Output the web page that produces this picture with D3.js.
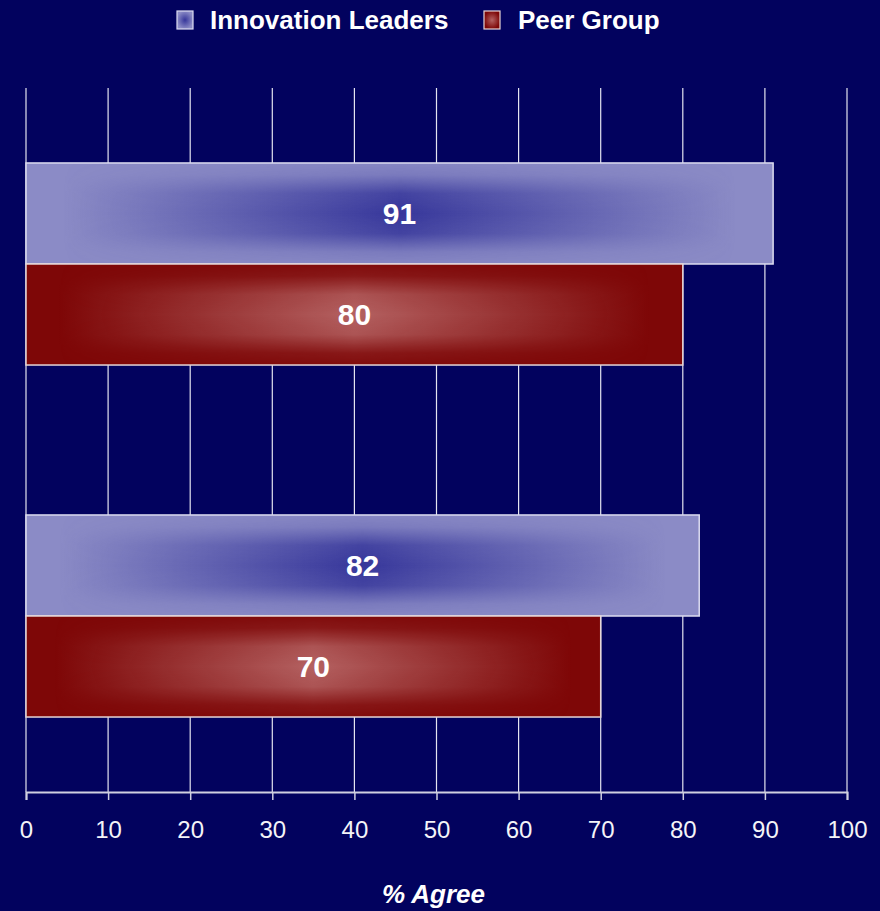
<!DOCTYPE html>
<html>
<head>
<meta charset="utf-8">
<script src="https://cdn.jsdelivr.net/npm/d3@7"></script>
<style>
  html, body { margin: 0; padding: 0; background: #02025e; }
  svg { display: block; }
</style>
</head>
<body>
<svg id="chart" width="880" height="911"></svg>
<script>
// Survey results, % agreeing with each statement
const categories = ["Statement 1", "Statement 2"];
const seriesNames = ["Innovation Leaders", "Peer Group"];
const innovationLeaders = [91, 82];
const peerGroup = [80, 70];
const tickValues = [0, 10, 20, 30, 40, 50, 60, 70, 80, 90, 100];
const axisTitle = "% Agree";

const W = 880, H = 911;
const margin = { left: 26, right: 33, top: 88, bottom: 119 };
const svg = d3.select("#chart");
const font = "'Liberation Sans', Arial, Helvetica, sans-serif";

svg.append("rect").attr("width", W).attr("height", H).attr("fill", "#02025e");

const x = d3.scaleLinear().domain([0, 100]).range([margin.left, W - margin.right]);
const y0 = d3.scaleBand().domain(categories).range([margin.top, H - margin.bottom])
  .paddingInner(0.426).paddingOuter(0.213);
const y1 = d3.scaleBand().domain(seriesNames).range([0, y0.bandwidth()]).padding(0);

// Gradients: a base colour with a second colour overlaid whose opacity peaks in the middle
// both horizontally (gradient) and vertically (mask), giving a bow-tie sheen.
const defs = svg.append("defs");
const styles = {
  "Innovation Leaders": { base: "#8b8bc6", core: "#36369a", key: "lead", stroke: "#dcdcf0" },
  "Peer Group": { base: "#7e0707", core: "#b46262", key: "peer", stroke: "#e6d6d6" }
};

const vMask = defs.append("linearGradient").attr("id", "vfade")
  .attr("x1", 0).attr("y1", 0).attr("x2", 0).attr("y2", 1);
[[0, 0.05], [0.12, 0.2], [0.3, 0.85], [0.5, 1], [0.7, 0.85], [0.88, 0.2], [1, 0.05]].forEach(([o, a]) =>
  vMask.append("stop").attr("offset", o).attr("stop-color", "#fff").attr("stop-opacity", a));
defs.append("mask").attr("id", "barmask").attr("maskContentUnits", "objectBoundingBox")
  .append("rect").attr("width", 1).attr("height", 1).attr("fill", "url(#vfade)");

Object.values(styles).forEach(s => {
  const g = defs.append("linearGradient").attr("id", "h-" + s.key)
    .attr("x1", 0).attr("y1", 0).attr("x2", 1).attr("y2", 0);
  [[0, 0], [0.05, 0], [0.25, 0.45], [0.5, 1], [0.75, 0.45], [0.95, 0], [1, 0]].forEach(([o, a]) =>
    g.append("stop").attr("offset", o).attr("stop-color", s.core).attr("stop-opacity", a));
  const r = defs.append("radialGradient").attr("id", "r-" + s.key);
  r.append("stop").attr("offset", 0).attr("stop-color", s.core);
  r.append("stop").attr("offset", 1).attr("stop-color", s.base);
});

// Vertical gridlines
svg.append("g").selectAll("line").data(tickValues).join("line")
  .attr("x1", d => x(d)).attr("x2", d => x(d))
  .attr("y1", margin.top).attr("y2", H - margin.bottom)
  .attr("stroke", "#e4e4f0").attr("stroke-width", 1.2);

// Bars
const rows = categories.map((c, i) => ({
  cat: c,
  values: [
    { series: seriesNames[0], value: innovationLeaders[i] },
    { series: seriesNames[1], value: peerGroup[i] }
  ]
}));

const groups = svg.append("g").selectAll("g").data(rows).join("g")
  .attr("transform", d => `translate(0,${y0(d.cat)})`);

const bars = groups.selectAll("g.bar").data(d => d.values).join("g").attr("class", "bar");
bars.append("rect")
  .attr("x", x(0)).attr("y", d => y1(d.series))
  .attr("width", d => x(d.value) - x(0)).attr("height", y1.bandwidth())
  .attr("fill", d => styles[d.series].base);
bars.append("rect")
  .attr("x", x(0)).attr("y", d => y1(d.series))
  .attr("width", d => x(d.value) - x(0)).attr("height", y1.bandwidth())
  .attr("fill", d => `url(#h-${styles[d.series].key})`)
  .attr("mask", "url(#barmask)");
bars.append("rect")
  .attr("x", x(0)).attr("y", d => y1(d.series))
  .attr("width", d => x(d.value) - x(0)).attr("height", y1.bandwidth())
  .attr("fill", "none").attr("stroke", d => styles[d.series].stroke).attr("stroke-width", 1.5);
bars.append("text")
  .attr("x", d => (x(0) + x(d.value)) / 2)
  .attr("y", d => y1(d.series) + y1.bandwidth() / 2)
  .attr("dy", "0.36em")
  .attr("text-anchor", "middle")
  .attr("fill", "#fff").attr("font-family", font).attr("font-weight", "bold").attr("font-size", 30)
  .text(d => d.value);

// X axis
const axis = svg.append("g").attr("transform", `translate(0,${H - margin.bottom})`)
  .call(d3.axisBottom(x).tickValues(tickValues).tickSize(8).tickPadding(21).tickSizeOuter(8));
axis.select(".domain").attr("stroke", "#d0d0e0").attr("stroke-width", 2);
axis.selectAll(".tick line").attr("stroke", "#d0d0e0").attr("stroke-width", 1.5);
axis.selectAll(".tick text").attr("fill", "#f4f4f8").attr("font-family", font).attr("font-size", 24);

svg.append("text")
  .attr("x", (x(0) + x(100)) / 2 - 3).attr("y", 903)
  .attr("text-anchor", "middle")
  .attr("fill", "#fff").attr("font-family", font).attr("font-weight", "bold").attr("font-style", "italic")
  .attr("font-size", 26)
  .text(axisTitle);

// Legend
const legendPos = [{ mx: 177, tx: 210 }, { mx: 484, tx: 518 }];
const legend = svg.append("g").selectAll("g").data(seriesNames).join("g");
legend.append("rect")
  .attr("x", (d, i) => legendPos[i].mx).attr("y", 11)
  .attr("width", 16).attr("height", 18)
  .attr("fill", d => `url(#r-${styles[d].key})`)
  .attr("stroke", d => styles[d].stroke).attr("stroke-width", 1.2);
legend.append("text")
  .attr("x", (d, i) => legendPos[i].tx).attr("y", 29)
  .attr("fill", "#fff").attr("font-family", font).attr("font-weight", "bold").attr("font-size", 26)
  .text(d => d);
</script>
</body>
</html>
